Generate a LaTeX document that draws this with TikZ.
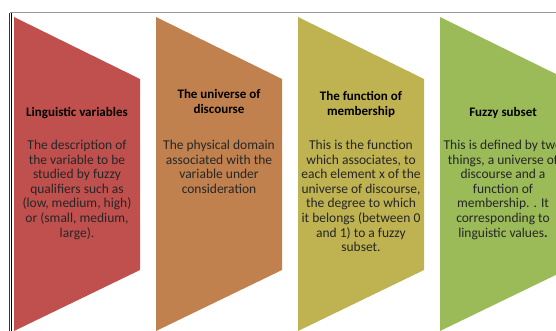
\documentclass[tikz,border=0pt]{standalone}
\usepackage{fontspec}
\setmainfont{Carlito}
\definecolor{cA}{HTML}{C0504D}
\definecolor{cB}{HTML}{C0814E}
\definecolor{cC}{HTML}{BFB251}
\definecolor{cD}{HTML}{9BBB59}
\definecolor{bodytxt}{HTML}{262626}
\begin{document}
\begin{tikzpicture}[x=1pt,y=-1pt,
  head/.style={font=\fontsize{13}{14.8}\selectfont\bfseries, align=center, anchor=south, inner sep=0pt, text=black},
  body/.style={font=\fontsize{13.5}{14.6}\selectfont, align=center, anchor=north, inner sep=0pt, text=bodytxt}]
\useasboundingbox (0,0) rectangle (556,331);
\clip (0,0) rectangle (556,331);
\fill[white] (0,0) rectangle (556,331);
% frame
\draw[gray!80, line width=1pt] (10,13) -- (556,13);
\draw[black!80, line width=0.8pt] (9,13) -- (9,331);
\draw[black, line width=0.9pt] (11.5,13) -- (11.5,331);
% shapes
\foreach \i/\c in {0/cA,1/cB,2/cC,3/cD}{
  \fill[\c] (14+142*\i,17) -- (140+142*\i,79) -- (140+142*\i,270) -- (14+142*\i,331) -- cycle;
}
% headings
\node[head] (h1) at (77,119) {Linguistic variables};
\node[head] (h2) at (219,114) {The universe of\\discourse};
\node[head] (h3) at (361,118) {The function of\\membership};
\node[head] (h4) at (503,119) {Fuzzy subset};
% bodies
\node[body] (b1) at (77,140) {The description of\\the variable to be\\studied by fuzzy\\qualifiers such as\\(low, medium, high)\\or (small, medium,\\large).};
\node[body] (b2) at (219,140) {The physical domain\\associated with the\\variable under\\consideration};
\node[body] (b3) at (361,140) {This is the function\\which associates, to\\each element x of the\\universe of discourse,\\the degree to which\\it belongs (between 0\\and 1) to a fuzzy\\subset.};
\node[body] (b4) at (503,140) {This is defined by two\\things, a universe of\\discourse and a\\function of\\membership. . It\\corresponding to\\linguistic values\textbf{.}};
\end{tikzpicture}
\end{document}
